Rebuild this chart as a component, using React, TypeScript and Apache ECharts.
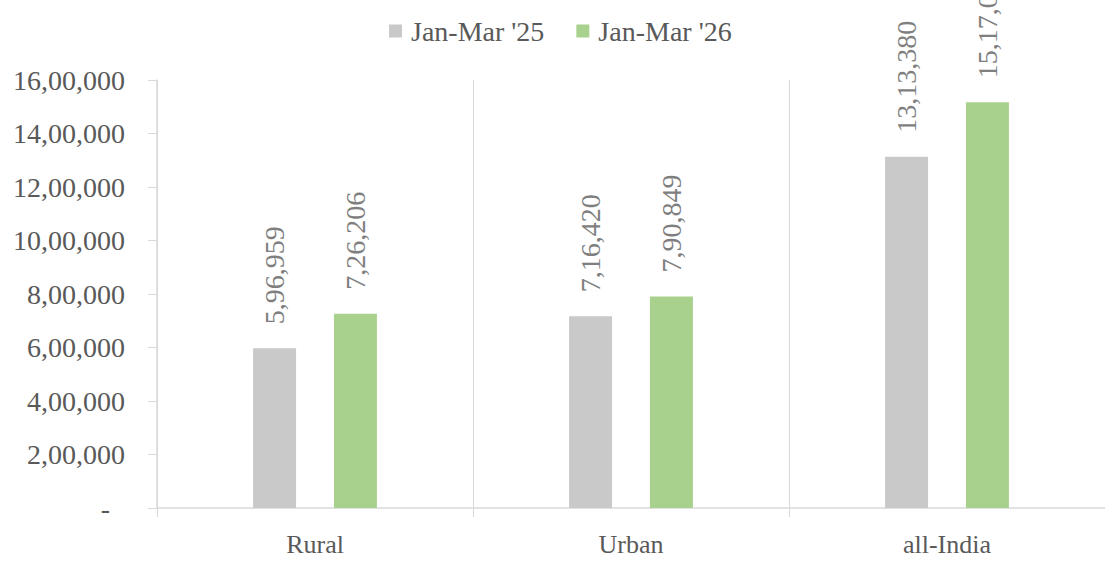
import React, { useEffect, useRef } from "react";
import * as echarts from "echarts";

const categories = ["Rural", "Urban", "all-India"];
const seriesNames = ["Jan-Mar '25", "Jan-Mar '26"];
const values25 = [596959, 716420, 1313380];
const values26 = [726206, 790849, 1517055];
const yTicks = [0, 200000, 400000, 600000, 800000, 1000000, 1200000, 1400000, 1600000];

function formatIN(n: number): string {
  if (n === 0) return "-";
  const s = Math.round(n).toString();
  if (s.length <= 3) return s;
  const last3 = s.slice(-3);
  let rest = s.slice(0, -3);
  const parts: string[] = [];
  while (rest.length > 2) {
    parts.unshift(rest.slice(-2));
    rest = rest.slice(0, -2);
  }
  if (rest.length) parts.unshift(rest);
  return parts.join(",") + "," + last3;
}

const FONT = "'Liberation Serif', 'Times New Roman', serif";

export default function App() {
  const ref = useRef<HTMLDivElement>(null);
  useEffect(() => {
    if (!ref.current) return;
    const chart = echarts.init(ref.current, undefined, { renderer: "svg" });
    const labelCfg = {
      show: true,
      position: "top",
      rotate: 90,
      align: "left",
      verticalAlign: "middle",
      distance: 24,
      fontFamily: FONT,
      fontSize: 28,
      color: "#7f7f7f",
      formatter: (p: any) => formatIN(p.value),
    };
    chart.setOption({
      animation: false,
      legend: {
        top: 12,
        left: 384,
        itemWidth: 13,
        itemHeight: 13,
        itemGap: 32,
        icon: "rect",
        textStyle: { fontFamily: FONT, fontSize: 28, color: "#595959", padding: [0, 0, 0, 4] },
        data: seriesNames,
      },
      grid: { left: 157, right: 0, top: 80, bottom: 53, containLabel: false },
      xAxis: {
        type: "category",
        data: categories,
        boundaryGap: true,
        axisLine: { show: true, lineStyle: { color: "#d9d9d9", width: 1.5 } },
        axisTick: { show: true, length: 9, lineStyle: { color: "#d9d9d9" } },
        splitLine: { show: true, lineStyle: { color: "#d9d9d9", width: 1 } },
        axisLabel: { margin: 23, fontFamily: FONT, fontSize: 26, color: "#595959" },
      },
      yAxis: {
        type: "value",
        min: yTicks[0],
        max: yTicks[yTicks.length - 1],
        interval: 200000,
        axisLine: { show: true, lineStyle: { color: "#d9d9d9", width: 1.5 } },
        axisTick: { show: true, length: 9, lineStyle: { color: "#d9d9d9" } },
        splitLine: { show: false },
        axisLabel: {
          margin: 32,
          fontFamily: FONT,
          fontSize: 28,
          color: "#595959",
          formatter: (v: number) => (v === 0 ? "{z|-}" : formatIN(v)),
          rich: {
            z: { fontFamily: FONT, fontSize: 28, color: "#595959", padding: [0, 15, 0, 0] },
          },
        },
      },
      series: [
        {
          name: seriesNames[0],
          type: "bar",
          data: values25,
          barWidth: 43,
          barGap: "88%",
          itemStyle: { color: "#c9c9c9" },
          label: labelCfg,
        },
        {
          name: seriesNames[1],
          type: "bar",
          data: values26,
          barWidth: 43,
          barGap: "88%",
          itemStyle: { color: "#a9d18e" },
          label: labelCfg,
        },
      ],
    });
    return () => chart.dispose();
  }, []);
  return (
    <div
      ref={ref}
      style={{ position: "fixed", left: 0, top: 0, width: 1105, height: 561, background: "#fff" }}
    />
  );
}
